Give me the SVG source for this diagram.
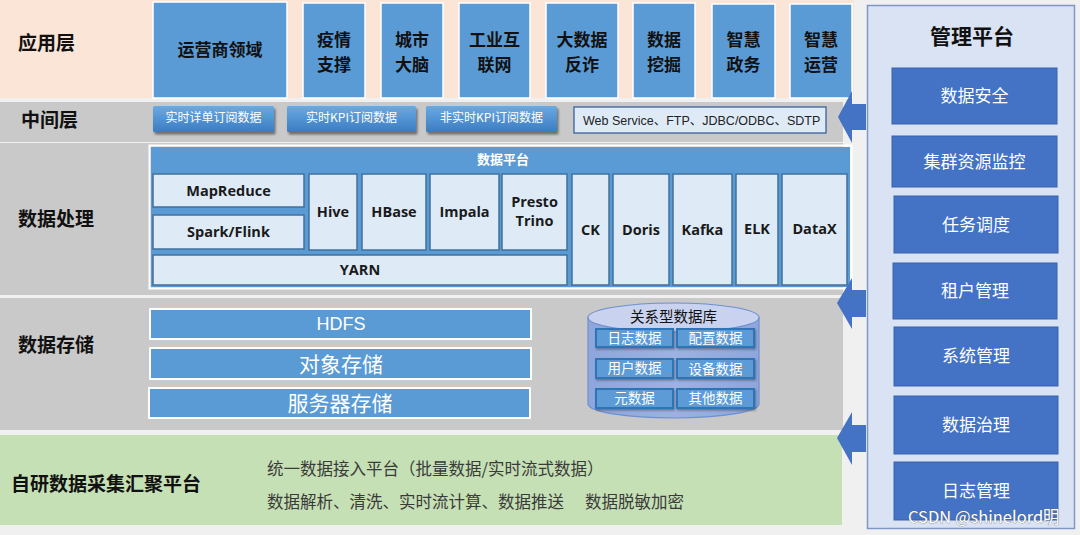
<svg xmlns="http://www.w3.org/2000/svg" width="1080" height="535" viewBox="0 0 1080 535">
<defs>
<linearGradient id="btnGrad" x1="0" y1="0" x2="0" y2="1">
<stop offset="0" stop-color="#6aaae2"/>
<stop offset="1" stop-color="#3b7cc2"/>
</linearGradient>
<linearGradient id="cylGrad" x1="0" y1="0" x2="1" y2="0">
<stop offset="0" stop-color="#8ea6dc"/>
<stop offset="0.5" stop-color="#9db2e2"/>
<stop offset="1" stop-color="#8ea6dc"/>
</linearGradient>
<filter id="sh" x="-10%" y="-20%" width="125%" height="160%">
<feDropShadow dx="1.5" dy="2.5" stdDeviation="1.2" flood-color="#000" flood-opacity="0.45"/>
</filter>
<filter id="sh2" x="-10%" y="-30%" width="125%" height="180%">
<feDropShadow dx="1" dy="1.5" stdDeviation="0.8" flood-color="#000" flood-opacity="0.35"/>
</filter>
</defs>
<style>
text{font-family:"Noto Sans CJK SC","Liberation Sans",sans-serif}
.lbl{font-weight:700;font-size:19px;fill:#111}
.app{fill:#5b9bd5;stroke:#fff;stroke-width:1.5}
.apptxt{font-weight:700;font-size:17px;fill:#111;text-anchor:middle}
.btn{fill:url(#btnGrad);filter:url(#sh)}
.btntxt{font-size:12px;fill:#fff;text-anchor:middle}
.comp{fill:#deebf7;stroke:#41719c;stroke-width:1.5}
.comptxt{font-family:"Open Sans","Liberation Sans",sans-serif;font-weight:700;font-size:14.5px;fill:#1a1a1a;text-anchor:middle}
.store{fill:#5b9bd5;stroke:#fff;stroke-width:2}
.storetxt{font-size:21px;fill:#fff;text-anchor:middle}
.db{fill:#5b9bd5;stroke:#2e75b6;stroke-width:2;filter:url(#sh2)}
.dbtxt{font-size:13.5px;fill:#fff;text-anchor:middle}
.mg{fill:#4472c4;stroke:#3862ad;stroke-width:1}
.mgtxt{font-size:17px;fill:#fff;text-anchor:middle}
.arrow{fill:#4472c4}
.gray{fill:#c9c9c9}
.acc{font-size:16.5px;fill:#3a3a3a}
</style>
<rect width="1080" height="535" fill="#f0f0f0"/>

<g id="bands">
<rect x="0" y="0" width="854" height="98" fill="#fbe5d6"/>
<rect class="gray" x="0" y="102" width="843" height="40"/>
<rect class="gray" x="0" y="143" width="843" height="152"/>
<rect class="gray" x="0" y="298" width="843" height="132"/>
<rect x="0" y="435" width="842" height="90" fill="#c5e0b4"/>
<text class="lbl" x="18" y="50">应用层</text>
<text class="lbl" x="21" y="127">中间层</text>
<text class="lbl" x="18" y="226">数据处理</text>
<text class="lbl" x="18" y="352">数据存储</text>
<text class="lbl" x="11" y="491" style="font-size:19px">自研数据采集汇聚平台</text>
</g>

<g id="app-layer">
<g id="app-operator"><rect class="app" x="153" y="2" width="134" height="96"/><text class="apptxt" x="220" y="56">运营商领域</text></g>
<g id="app-epidemic"><rect class="app" x="303" y="3" width="62" height="95"/><text class="apptxt" x="334" y="46">疫情</text><text class="apptxt" x="334" y="71">支撑</text></g>
<g id="app-city"><rect class="app" x="381" y="3" width="62" height="95"/><text class="apptxt" x="412" y="46">城市</text><text class="apptxt" x="412" y="71">大脑</text></g>
<g id="app-iiot"><rect class="app" x="459" y="3" width="71" height="95"/><text class="apptxt" x="494.5" y="46">工业互</text><text class="apptxt" x="494.5" y="71">联网</text></g>
<g id="app-fraud"><rect class="app" x="546" y="3" width="72" height="95"/><text class="apptxt" x="582" y="46">大数据</text><text class="apptxt" x="582" y="71">反诈</text></g>
<g id="app-mining"><rect class="app" x="633" y="3" width="62" height="95"/><text class="apptxt" x="664" y="46">数据</text><text class="apptxt" x="664" y="71">挖掘</text></g>
<g id="app-gov"><rect class="app" x="712" y="4" width="63" height="94"/><text class="apptxt" x="743.5" y="46">智慧</text><text class="apptxt" x="743.5" y="71">政务</text></g>
<g id="app-ops"><rect class="app" x="790" y="4" width="62" height="94"/><text class="apptxt" x="821" y="46">智慧</text><text class="apptxt" x="821" y="71">运营</text></g>
</g>

<g id="middle-layer">
<g id="mid-detail"><rect class="btn" x="153" y="106" width="121" height="26" rx="1.5"/><text class="btntxt" x="213.5" y="122">实时详单订阅数据</text></g>
<g id="mid-kpi"><rect class="btn" x="287" y="106" width="129" height="26" rx="1.5"/><text class="btntxt" x="351.5" y="122">实时KPI订阅数据</text></g>
<g id="mid-nonrt"><rect class="btn" x="426" y="106" width="131" height="26" rx="1.5"/><text class="btntxt" x="491.5" y="122">非实时KPI订阅数据</text></g>
<g id="mid-protocols"><rect x="574" y="107" width="252" height="26" fill="#deebf7" stroke="#2f5597" stroke-width="1.2"/><text x="583" y="124.5" style="font-family:'Liberation Sans','Noto Sans CJK SC',sans-serif;font-size:12.5px;fill:#222">Web Service、FTP、JDBC/ODBC、SDTP</text></g>
</g>

<g id="data-platform">
<rect x="149.5" y="145.5" width="702" height="143" fill="none" stroke="#fff" stroke-width="2"/>
<rect x="151" y="147" width="699" height="140" fill="#5b9bd5"/>
<text x="503" y="164" style="font-weight:700;font-size:13px;fill:#fff;text-anchor:middle">数据平台</text>
<g id="mapreduce"><rect class="comp" x="153" y="174" width="151" height="33"/><text class="comptxt" x="228.5" y="196">MapReduce</text></g>
<g id="spark"><rect class="comp" x="153" y="215" width="151" height="34"/><text class="comptxt" x="228.5" y="237">Spark/Flink</text></g>
<g id="hive"><rect class="comp" x="309" y="174" width="48" height="76"/><text class="comptxt" x="333" y="217">Hive</text></g>
<g id="hbase"><rect class="comp" x="362" y="174" width="64" height="76"/><text class="comptxt" x="394" y="217">HBase</text></g>
<g id="impala"><rect class="comp" x="430" y="174" width="69" height="76"/><text class="comptxt" x="464.5" y="217">Impala</text></g>
<g id="presto"><rect class="comp" x="502" y="174" width="65" height="76"/><text class="comptxt" x="534.5" y="207">Presto</text><text class="comptxt" x="534.5" y="226">Trino</text></g>
<g id="yarn"><rect class="comp" x="153" y="255" width="414" height="30"/><text class="comptxt" x="360" y="275">YARN</text></g>
<g id="ck"><rect class="comp" x="572" y="174" width="37" height="111"/><text class="comptxt" x="590.5" y="235">CK</text></g>
<g id="doris"><rect class="comp" x="613" y="174" width="56" height="111"/><text class="comptxt" x="641" y="235">Doris</text></g>
<g id="kafka"><rect class="comp" x="673" y="174" width="59" height="111"/><text class="comptxt" x="702.5" y="235">Kafka</text></g>
<g id="elk"><rect class="comp" x="736" y="174" width="42" height="111"/><text class="comptxt" x="757" y="234">ELK</text></g>
<g id="datax"><rect class="comp" x="782" y="174" width="65" height="111"/><text class="comptxt" x="814.5" y="234">DataX</text></g>
</g>

<g id="storage">
<g id="hdfs"><rect class="store" x="150" y="309" width="381" height="30"/><text class="storetxt" x="341" y="330" style="font-family:'Liberation Sans',sans-serif;font-size:18px">HDFS</text></g>
<g id="object-store"><rect class="store" x="150" y="348" width="381" height="31"/><text class="storetxt" x="341" y="371.5">对象存储</text></g>
<g id="server-store"><rect class="store" x="149" y="388" width="381" height="30"/><text class="storetxt" x="340" y="410.5">服务器存储</text></g>
</g>

<g id="rdb">
<path d="M588,317.5 L588,404 A85.5,14 0 0 0 759,404 L759,317.5 Z" fill="url(#cylGrad)" stroke="#6f8fd0" stroke-width="1.2"/>
<ellipse cx="673.5" cy="317.5" rx="85.5" ry="14.5" fill="#c9d3ef" stroke="#6f8fd0" stroke-width="1.2"/>
<text x="673.5" y="322" style="font-size:14.5px;fill:#111;text-anchor:middle">关系型数据库</text>
<g id="db-log"><rect class="db" x="596" y="329" width="77" height="18"/><text class="dbtxt" x="634.5" y="343">日志数据</text></g>
<g id="db-config"><rect class="db" x="677" y="329" width="77" height="18"/><text class="dbtxt" x="715.5" y="343">配置数据</text></g>
<g id="db-user"><rect class="db" x="596" y="359" width="77" height="19"/><text class="dbtxt" x="634.5" y="373">用户数据</text></g>
<g id="db-device"><rect class="db" x="677" y="359" width="77" height="19"/><text class="dbtxt" x="715.5" y="373.5">设备数据</text></g>
<g id="db-meta"><rect class="db" x="596" y="389" width="77" height="19"/><text class="dbtxt" x="634.5" y="403">元数据</text></g>
<g id="db-other"><rect class="db" x="677" y="389" width="77" height="19"/><text class="dbtxt" x="715.5" y="403">其他数据</text></g>
</g>

<g id="ingest">
<text class="acc" x="267" y="475">统一数据接入平台（批量数据/实时流式数据）</text>
<text class="acc" x="267" y="508">数据解析、清洗、实时流计算、数据推送</text>
<text class="acc" x="585" y="508">数据脱敏加密</text>
</g>

<g id="management">
<rect x="867.5" y="5.5" width="207" height="523" fill="#dae3f3" stroke="#7f97c8" stroke-width="1.5"/>
<text x="972" y="44" style="font-weight:700;font-size:21px;fill:#111;text-anchor:middle">管理平台</text>
<g id="m-security"><rect class="mg" x="892" y="68" width="165" height="56"/><text class="mgtxt" x="974.5" y="102">数据安全</text></g>
<g id="m-cluster"><rect class="mg" x="892" y="136" width="165" height="51"/><text class="mgtxt" x="974.5" y="167.5">集群资源监控</text></g>
<g id="m-sched"><rect class="mg" x="894" y="196" width="164" height="57"/><text class="mgtxt" x="976" y="230.5">任务调度</text></g>
<g id="m-tenant"><rect class="mg" x="893" y="263" width="164" height="56"/><text class="mgtxt" x="975" y="297">租户管理</text></g>
<g id="m-system"><rect class="mg" x="894" y="327" width="164" height="59"/><text class="mgtxt" x="976" y="362">系统管理</text></g>
<g id="m-gov"><rect class="mg" x="894" y="396" width="164" height="58"/><text class="mgtxt" x="976" y="431">数据治理</text></g>
<g id="m-log"><rect class="mg" x="894" y="462" width="164" height="58"/><text class="mgtxt" x="976" y="497">日志管理</text></g>
</g>

<g id="connectors">
<path class="arrow" d="M838,117 L852,91 L852,104 L866,104 L866,130 L852,130 L852,143 Z"/>
<path class="arrow" d="M837,303 L852,278 L852,290 L866,290 L866,317 L852,317 L852,329 Z"/>
<path class="arrow" d="M837,438 L852,412 L852,425 L866,425 L866,452 L852,452 L852,465 Z"/>
</g>

<text x="908" y="523" style="font-size:16.5px;fill:#fff;stroke:#666;stroke-width:0.6;paint-order:stroke">CSDN @shinelord明</text>
</svg>
